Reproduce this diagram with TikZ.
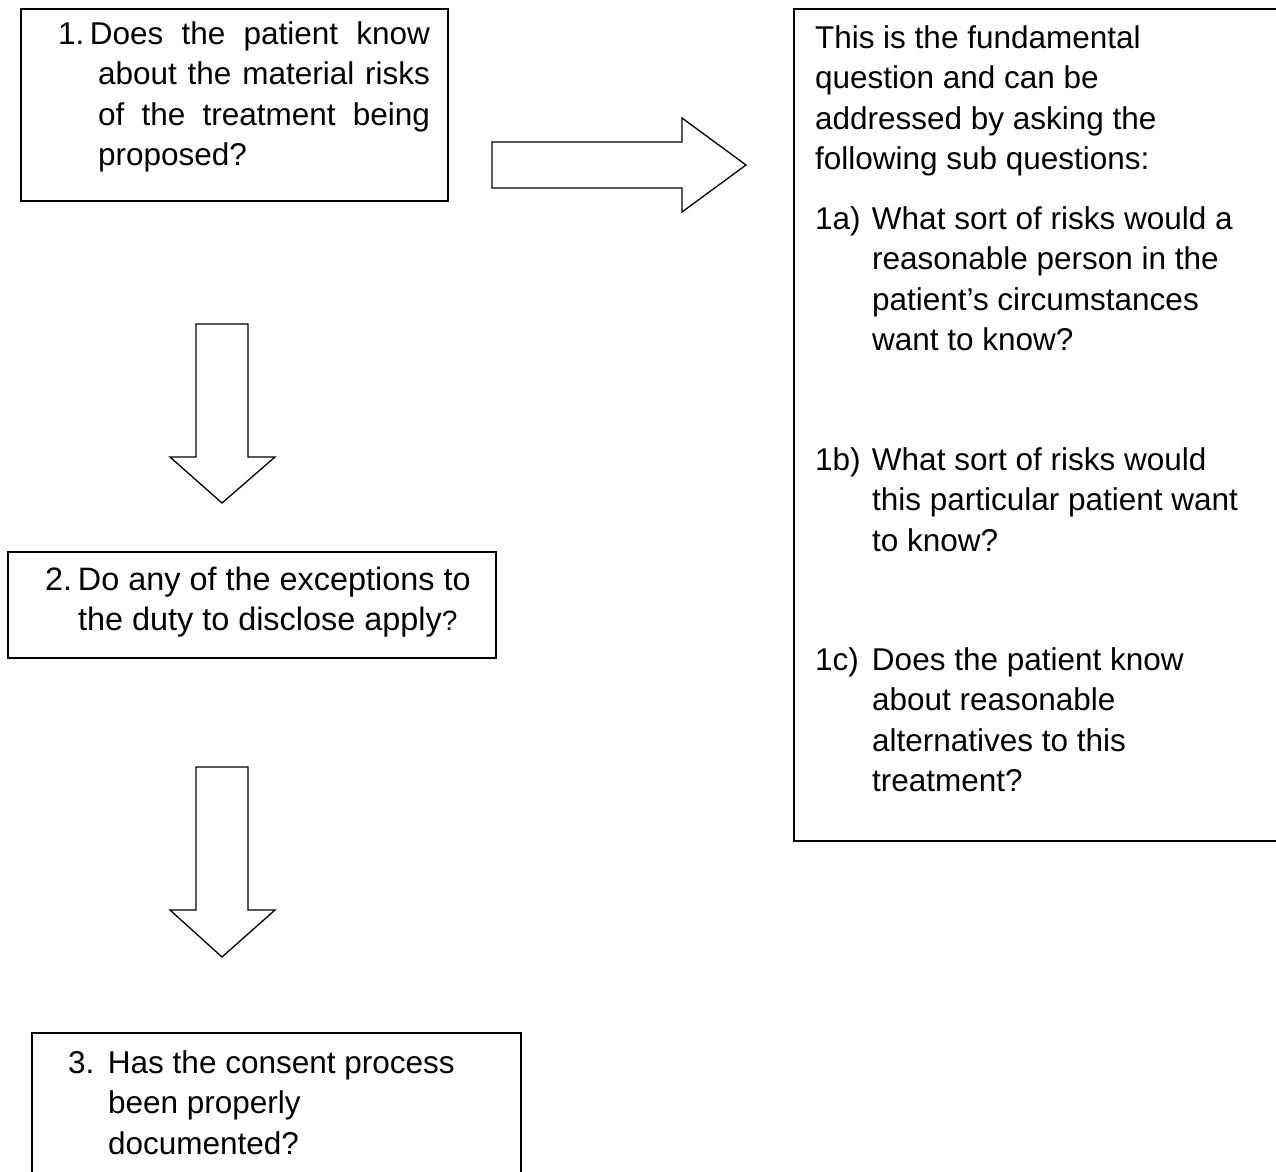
\documentclass[tikz,border=0pt]{standalone}
\usepackage{fontspec}
\setmainfont{Liberation Sans}
\begin{document}
\begin{tikzpicture}[x=1pt,y=-1pt,
  box/.style={draw=black,line width=1.6pt,fill=none,inner sep=0pt,anchor=north west},
  blockarrow/.style={draw=black,line width=1.3pt,fill=white,line join=miter},
  txt/.style={anchor=base west,inner sep=0pt,outer sep=0pt,align=left}]
\newcommand{\bodyfont}{\fontsize{31.5}{40.5}\selectfont}
\clip (0,0) rectangle (1276,1171);
\fill[white] (0,0) rectangle (1276,1171);

% boxes
\node[box,minimum width=427pt,minimum height=192pt] (b1) at (20,8) {};
\node[box,minimum width=488pt,minimum height=106pt] (b2) at (7,551) {};
\node[box,minimum width=489pt,minimum height=200pt] (b3) at (31,1032) {};
\node[box,minimum width=520pt,minimum height=832pt] (b4) at (793,8) {};

% block arrows
\draw[blockarrow] (492,142) -- (682,142) -- (682,118) -- (746,165) -- (682,212) -- (682,188) -- (492,188) -- cycle;
\draw[blockarrow] (196,324) -- (248,324) -- (248,457) -- (275,457) -- (222,503) -- (170,457) -- (196,457) -- cycle;
\draw[blockarrow] (196,767) -- (248,767) -- (248,910) -- (275,910) -- (222,957) -- (170,910) -- (196,910) -- cycle;

% box 1 text
\node[txt] (t1) at (58,44) {\parbox[t]{420pt}{\bodyfont
\makebox[32pt][l]{1.}\makebox[340pt][s]{Does the patient know}\\
\hspace*{40pt}\makebox[332pt][s]{about the material risks}\\
\hspace*{40pt}\makebox[332pt][s]{of the treatment being}\\
\hspace*{40pt}proposed?}};

% box 2 text
\node[txt] (t2) at (45,590) {\parbox[t]{450pt}{\fontsize{32.4}{40.5}\selectfont
\makebox[33pt][l]{2.}Do any of the exceptions to\\
\hspace*{33pt}the duty to disclose apply{\fontsize{28}{40.5}\selectfont ?}}};

% box 3 text
\node[txt] (t3) at (68,1073) {\parbox[t]{440pt}{\bodyfont
\makebox[40pt][l]{3.}Has the consent process\\
\hspace*{40pt}been properly\\
\hspace*{40pt}documented?}};

% right box text
\node[txt] (t4) at (815,48) {\parbox[t]{450pt}{\bodyfont
This is the fundamental\\
question and can be\\
addressed by asking the\\
following sub questions:}};
\node[txt] (t5) at (815,229) {\parbox[t]{450pt}{\bodyfont
\makebox[57pt][l]{1a)}What sort of risks would a\\
\hspace*{57pt}reasonable person in the\\
\hspace*{57pt}patient’s circumstances\\
\hspace*{57pt}want to know?}};
\node[txt] (t6) at (815,470) {\parbox[t]{450pt}{\bodyfont
\makebox[57pt][l]{1b)}What sort of risks would\\
\hspace*{57pt}this particular patient want\\
\hspace*{57pt}to know?}};
\node[txt] (t7) at (815,670) {\parbox[t]{450pt}{\bodyfont
\makebox[57pt][l]{1c)}Does the patient know\\
\hspace*{57pt}about reasonable\\
\hspace*{57pt}alternatives to this\\
\hspace*{57pt}treatment?}};
\end{tikzpicture}
\end{document}
